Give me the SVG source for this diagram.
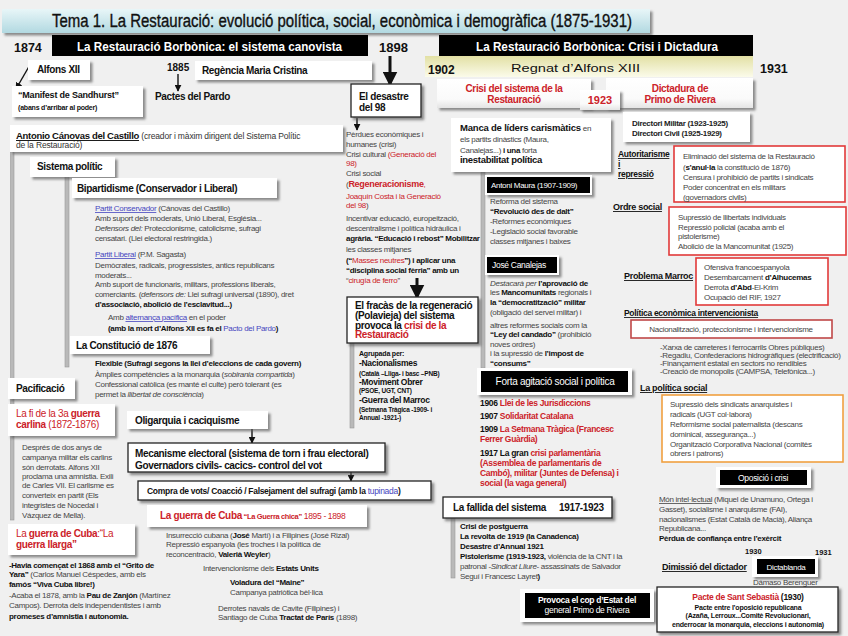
<svg xmlns="http://www.w3.org/2000/svg" width="848" height="636" viewBox="0 0 848 636">
<defs>
<linearGradient id="gT" x1="0" y1="0" x2="0" y2="1"><stop offset="0" stop-color="#e8f6f8"/><stop offset="1" stop-color="#b2d9e1"/></linearGradient>
<linearGradient id="gY" x1="0" y1="0" x2="0" y2="1"><stop offset="0" stop-color="#e2e0a4"/><stop offset="1" stop-color="#fbfbea"/></linearGradient>
<linearGradient id="gW" x1="0" y1="0" x2="0" y2="1"><stop offset="0" stop-color="#ffffff"/><stop offset="0.7" stop-color="#fafafa"/><stop offset="1" stop-color="#e4e4e4"/></linearGradient>
<filter id="sh" x="-10%" y="-10%" width="130%" height="150%"><feDropShadow dx="2.5" dy="2.5" stdDeviation="0.8" flood-color="#555" flood-opacity="0.65"/></filter>
<marker id="ah" viewBox="0 0 10 10" refX="9" refY="5" markerWidth="5" markerHeight="5" orient="auto"><path d="M0,0 L10,5 L0,10 z" fill="#111"/></marker>
<style>
text{font-family:"Liberation Sans",Arial,sans-serif}
.s{font-size:8px;fill:#454545;letter-spacing:-0.3px}
.k{font-weight:bold;fill:#111}
.h{font-size:10px;font-weight:bold;fill:#111;letter-spacing:-0.35px}
.r{fill:#cc2229}
.bl{fill:#4646c0;text-decoration:underline}
.bl2{fill:#4646c0}
.i{font-style:italic}
.u{text-decoration:underline}
.w{fill:#fff}
.bx{fill:#fff;filter:url(#sh)}
.bd{fill:#fff;stroke:#222;stroke-width:1.3;filter:url(#sh)}
.blk{fill:#000}
.wf{fill:#fff;filter:url(#sh)}
.bar{fill:#b9b9b9;stroke:#999;stroke-width:0.6}
.red{fill:#fff;stroke:#e23a3a;stroke-width:1.6}
.ar{stroke:#111;stroke-width:1.4;fill:none;marker-end:url(#ah)}
.ar3{stroke:#111;stroke-width:3;fill:none;marker-end:url(#ah)}
</style>
</defs>
<rect width="848" height="636" fill="#f0f0f0"/>

<g id="connectors">
<rect class="bar" x="10.5" y="152" width="3.5" height="368"/>
<rect class="bar" x="65" y="172" width="4" height="195"/>
<rect class="bar" x="350" y="343" width="4" height="85"/>
<rect class="bar" x="481" y="172" width="4" height="196"/>
<rect class="bar" x="451" y="518" width="4" height="60"/>
<line class="ar" x1="31" y1="63" x2="16" y2="89"/>
<line class="ar" x1="178" y1="74" x2="178" y2="91"/>
<line class="ar3" x1="390" y1="56" x2="390" y2="85"/>
<line class="ar" x1="357" y1="118" x2="357" y2="130"/>
<line class="ar3" x1="417" y1="278" x2="417" y2="298"/>
<line class="ar" x1="252" y1="429" x2="252" y2="443"/>
<line class="ar" x1="351" y1="462" x2="351" y2="481"/>
</g>

<g id="title">
<rect x="2" y="9" width="648" height="24" fill="url(#gT)" filter="url(#sh)"/>
<text x="52" y="27" font-size="18" fill="#111" stroke="#111" stroke-width="0.35" textLength="580" lengthAdjust="spacingAndGlyphs">Tema 1. La Restauració: evolució política, social, econòmica i demogràfica (1875-1931)</text>
</g>

<g id="timeline">
<text x="14" y="52" font-size="12.5" font-weight="bold" fill="#111">1874</text>
<rect x="52" y="35" width="316" height="21" fill="#000"/>
<text x="77" y="50.5" font-size="12.5" font-weight="bold" class="w" textLength="265" lengthAdjust="spacingAndGlyphs">La Restauració Borbònica: el sistema canovista</text>
<text x="379" y="52" font-size="13" font-weight="bold" fill="#111">1898</text>
<rect x="439" y="35" width="314" height="21" fill="#000"/>
<text x="476" y="50.5" font-size="12.5" font-weight="bold" class="w" textLength="242" lengthAdjust="spacingAndGlyphs">La Restauració Borbònica: Crisi i Dictadura</text>
<rect x="425" y="56" width="328" height="21" fill="url(#gY)"/>
<text x="428" y="74" font-size="12" font-weight="bold" fill="#111">1902</text>
<text x="511" y="71.5" font-size="10.5" fill="#111" textLength="129" lengthAdjust="spacingAndGlyphs">Regnat d’Alfons XIII</text>
<text x="760" y="73" font-size="12.5" font-weight="bold" fill="#111">1931</text>
</g>

<g id="alfons">
<rect class="bx" x="28" y="60" width="62" height="20"/>
<text class="h" x="37" y="73" font-size="9">Alfons XII</text>
</g>
<g id="manifest">
<rect class="bx" x="12" y="86" width="131" height="31"/>
<text x="18" y="98" font-size="9" font-weight="bold" fill="#111" letter-spacing="-0.2">“Manifest de Sandhurst”</text>
<text x="18" y="109.5" font-size="7" font-weight="bold" fill="#111" letter-spacing="-0.2">(abans d’arribar al poder)</text>
</g>
<g id="y1885">
<text x="167" y="71" font-size="10" font-weight="bold" fill="#111">1885</text>
<text class="h" x="155" y="100" font-size="9.5">Pactes del Pardo</text>
</g>
<g id="regencia">
<rect class="bx" x="195" y="61" width="177" height="19"/>
<text class="h" x="202" y="74" font-size="9.5">Regència Maria Cristina</text>
</g>

<g id="desastre">
<rect class="bd" x="351" y="84" width="70" height="33"/>
<text class="h" x="359" y="100">El desastre</text>
<text class="h" x="359" y="111">del 98</text>
</g>

<g id="crisi">
<rect x="437" y="79" width="154" height="29" fill="url(#gW)" filter="url(#sh)"/>
<text x="514" y="92" font-size="10" font-weight="bold" class="r" text-anchor="middle" letter-spacing="-0.35">Crisi del sistema de la</text>
<text x="514" y="102.5" font-size="10" font-weight="bold" class="r" text-anchor="middle" letter-spacing="-0.35">Restauració</text>
</g>
<g id="dictadura">
<rect x="606" y="78" width="147" height="30" fill="url(#gW)" filter="url(#sh)"/>
<text x="680" y="92" font-size="10" font-weight="bold" class="r" text-anchor="middle" letter-spacing="-0.35">Dictadura de</text>
<text x="680" y="102.5" font-size="10" font-weight="bold" class="r" text-anchor="middle" letter-spacing="-0.35">Primo de Rivera</text>
</g>
<g id="y1923">
<rect x="580" y="90" width="40" height="20" fill="url(#gW)" filter="url(#sh)"/>
<text x="600" y="104" font-size="11" font-weight="bold" class="r" text-anchor="middle">1923</text>
</g>
<g id="directori">
<rect class="bx" x="623" y="112" width="127" height="30"/>
<text x="632" y="126" font-size="8" font-weight="bold" fill="#222" letter-spacing="-0.3">Directori Militar (1923-1925)</text>
<text x="632" y="135.5" font-size="8" font-weight="bold" fill="#222" letter-spacing="-0.3">Directori Civil (1925-1929)</text>
</g>

<g id="canovas">
<rect class="bx" x="10" y="125" width="333" height="27"/>
<text x="16" y="139" class="s"><tspan class="k u" font-size="9.5">Antonio Cánovas del Castillo</tspan><tspan fill="#333" font-size="8.5" letter-spacing="-0.15"> (creador i màxim dirigent del Sistema Polític</tspan></text>
<text x="16" y="148" class="s" style="fill:#333;font-size:8.5px;letter-spacing:-0.15px">de la Restauració)</text>
</g>

<g id="sistema">
<rect class="bx" x="30" y="157" width="85" height="20"/>
<text class="h" x="37" y="170">Sistema polític</text>
</g>
<g id="bipartidisme">
<rect class="bx" x="72" y="178" width="205" height="20"/>
<text class="h" x="77" y="191.5">Bipartidisme (Conservador i Liberal)</text>
<text class="s" x="95" y="211"><tspan class="bl">Partit Conservador</tspan> (Cánovas del Castillo)</text>
<text class="s" x="95" y="221">Amb suport dels moderats, Unió Liberal, Església...</text>
<text class="s" x="95" y="231"><tspan class="i">Defensors del:</tspan> Proteccionisme, catolicisme, sufragi</text>
<text class="s" x="95" y="241">censatari.  (Llei electoral restringida.)</text>
<text class="s" x="95" y="257"><tspan class="bl">Partit Liberal</tspan> (P.M. Sagasta)</text>
<text class="s" x="95" y="268">Demòcrates, radicals, progressistes, antics republicans</text>
<text class="s" x="95" y="278">moderats...</text>
<text class="s" x="95" y="287">Amb suport de funcionaris, militars, professions liberals,</text>
<text class="s" x="95" y="297">comerciants. (<tspan class="i">defensors de:</tspan> Llei sufragi universal (1890), dret</text>
<text class="s k" x="95" y="307">d’associació, abolició de l’esclavitud...)</text>
<text class="s" x="108" y="320">Amb <tspan class="bl">alternança pacífica</tspan> en el poder</text>
<text class="s k" x="108" y="331">(amb la mort d’Alfons XII es fa el <tspan class="bl2" font-weight="normal">Pacto del Pardo</tspan>)</text>
</g>

<g id="constitucio">
<rect class="bx" x="70" y="336" width="140" height="18"/>
<text class="h" x="76" y="349">La Constitució de 1876</text>
<text class="s k" x="95" y="366">Flexible (Sufragi segons la llei d’eleccions de cada govern)</text>
<text class="s" x="95" y="377">Àmplies competències a la monarquia (<tspan class="i">sobirania compartida</tspan>)</text>
<text class="s" x="95" y="387">Confessional catòlica (es manté el culte) però tolerant (es</text>
<text class="s" x="95" y="397">permet la <tspan class="i">llibertat de consciència</tspan>)</text>
</g>

<g id="pacificacio">
<rect class="bx" x="8" y="378" width="67" height="21"/>
<text class="h" x="16" y="392">Pacificació</text>
</g>
<g id="carlina">
<rect class="bx" x="8" y="404" width="107" height="32"/>
<text x="16" y="416.5" font-size="10" class="r" letter-spacing="-0.35">La fi de la 3a <tspan font-weight="bold">guerra</tspan></text>
<text x="16" y="428" font-size="10" class="r" letter-spacing="-0.35"><tspan font-weight="bold">carlina</tspan> (1872-1876)</text>
<text class="s" x="22" y="450">Després de dos anys de</text>
<text class="s" x="22" y="460">campanya militar els carlins</text>
<text class="s" x="22" y="470">són derrotats. Alfons XII</text>
<text class="s" x="22" y="479">proclama una amnistia. Exili</text>
<text class="s" x="22" y="488">de Carles VII. El carlisme es</text>
<text class="s" x="22" y="498">converteix en partit (Els</text>
<text class="s" x="22" y="508">integristes de Nocedal i</text>
<text class="s" x="22" y="518">Vázquez de Mella).</text>
</g>

<g id="cuba-llarga">
<rect class="bx" x="8" y="524" width="127" height="31"/>
<text x="16" y="536.5" font-size="10" class="r" letter-spacing="-0.35">La <tspan font-weight="bold">guerra de Cuba</tspan>:“La</text>
<text x="16" y="547.5" font-size="10" class="r" font-weight="bold" letter-spacing="-0.35">guerra llarga”</text>
<text class="s k" x="9" y="568">-Havia començat el 1868 amb el “Grito de</text>
<text class="s" x="9" y="577"><tspan class="k">Yara”</tspan> (Carlos Manuel Céspedes, amb els</text>
<text class="s k" x="9" y="587">famós “Viva Cuba libre!)</text>
<text class="s" x="9" y="598">-Acaba el 1878, amb la <tspan class="k">Pau de Zanjón</tspan> (Martínez</text>
<text class="s" x="9" y="608">Campos). Derrota dels independentistes i amb</text>
<text class="s k" x="9" y="619">promeses d’amnistia i autonomia.</text>
</g>

<g id="oligarquia">
<rect class="bx" x="127" y="411" width="141" height="18"/>
<text class="h" x="135" y="423.5">Oligarquia i caciquisme</text>
</g>
<g id="mecanisme">
<rect class="bd" x="128" y="443" width="257" height="29"/>
<text class="h" x="135" y="457">Mecanisme electoral (sistema de torn i frau electoral)</text>
<text class="h" x="135" y="468.5">Governadors civils- cacics- control del vot</text>
</g>
<g id="compra">
<rect class="bd" x="138" y="481" width="293" height="19"/>
<text x="147" y="494" font-size="8.5" font-weight="bold" fill="#111" letter-spacing="-0.3">Compra de vots/ Coacció / Falsejament del sufragi (amb la <tspan class="bl2" font-weight="normal">tupinada</tspan>)</text>
</g>
<g id="cuba-chica">
<rect class="bx" x="147" y="505" width="220" height="22"/>
<text x="160" y="518.5" class="r" font-size="10" letter-spacing="-0.35"><tspan font-weight="bold">La guerra de Cuba</tspan><tspan font-weight="bold" font-size="7.5"> “La Guerra chica”</tspan><tspan font-size="8.5">  1895 - 1898</tspan></text>
<text class="s" x="166" y="538">Insurrecció cubana (<tspan class="k">José</tspan> Martí) i a Filipines (José Rizal)</text>
<text class="s" x="166" y="547">Repressió espanyola (les troches i la política de</text>
<text class="s" x="166" y="557">reconcentració,  <tspan class="k">Valerià Weyler</tspan>)</text>
<text class="s" x="203" y="571">Intervencionisme dels <tspan class="k">Estats Units</tspan></text>
<text class="s k" x="230" y="585">Voladura del “Maine”</text>
<text class="s" x="230" y="595">Campanya patriòtica bèl·lica</text>
<text class="s" x="218" y="611">Derrotes navals de Cavite (Filipines) i</text>
<text class="s" x="218" y="620">Santiago de Cuba <tspan class="k">Tractat de París</tspan> (1898)</text>
</g>

<g id="crisi98">
<text class="s" x="346" y="137">Pèrdues econòmiques i</text>
<text class="s" x="346" y="147">humanes (crisi)</text>
<text class="s" x="346" y="157">Crisi cultural <tspan class="r">(Generació del</tspan></text>
<text class="s r" x="346" y="166">98)</text>
<text class="s" x="346" y="176">Crisi social</text>
<text class="s" x="346" y="187">(<tspan class="r" font-weight="bold" font-size="9">Regeneracionisme</tspan><tspan class="r">,</tspan></text>
<text class="s r" x="346" y="199">Joaquín Costa i la Generació</text>
<text class="s" x="346" y="208"><tspan class="r">del 98</tspan>)</text>
<text class="s" x="346" y="221">Incentivar educació, europeització,</text>
<text class="s" x="346" y="231">descentralisme i política hidràulica i</text>
<text class="s k" x="346" y="241">agrària. “Educació i rebost” Mobilitzar</text>
<text class="s" x="346" y="252">les classes mitjanes</text>
<text class="s k" x="346" y="263">(“<tspan class="r" font-weight="normal">Masses neutres</tspan>”) i aplicar una</text>
<text class="s k" x="346" y="273">“disciplina social fèrria” amb un</text>
<text class="s" x="346" y="283">“<tspan class="r">cirugía de ferro</tspan>”</text>
</g>

<g id="fracas">
<rect class="bd" x="347" y="297" width="131" height="46"/>
<text class="h" x="355" y="309" font-size="9.5">El fracàs de la regeneració</text>
<text class="h" x="355" y="318.5" font-size="9.5">(Polavieja) del sistema</text>
<text class="h" x="355" y="328.5" font-size="9.5">provoca la <tspan class="r">crisi de la</tspan></text>
<text class="h r" x="355" y="338" font-size="9.5">Restauració</text>
<text x="359" y="356" font-size="7" font-weight="bold" fill="#111" letter-spacing="-0.2">Agrupada per:</text>
<text x="359" y="366" font-size="8.5" font-weight="bold" fill="#111" letter-spacing="-0.3">-Nacionalismes</text>
<text x="359" y="375.5" font-size="6.5" font-weight="bold" fill="#111" letter-spacing="-0.2">(Català –Lliga- i basc –PNB)</text>
<text x="359" y="384.5" font-size="8.5" font-weight="bold" fill="#111" letter-spacing="-0.3">-Moviment Obrer</text>
<text x="359" y="393" font-size="6.5" font-weight="bold" fill="#111" letter-spacing="-0.2">(PSOE, UGT, CNT)</text>
<text x="359" y="403" font-size="8.5" font-weight="bold" fill="#111" letter-spacing="-0.3">-Guerra del Marroc</text>
<text x="359" y="411.5" font-size="6.5" font-weight="bold" fill="#111" letter-spacing="-0.2">(Setmana Tràgica -1909- i</text>
<text x="359" y="420" font-size="6.5" font-weight="bold" fill="#111" letter-spacing="-0.2">Annual -1921-)</text>
</g>

<g id="manca">
<rect class="bx" x="451" y="118" width="160" height="54"/>
<text x="460" y="131" class="s" fill="#333"><tspan class="k" font-size="9.5" letter-spacing="-0.2">Manca de líders carismàtics</tspan> en</text>
<text x="460" y="142" class="s">els partits dinàstics  (Maura,</text>
<text x="460" y="153" class="s">Canalejas...)<tspan class="k"> i una</tspan> forta</text>
<text x="460" y="163" font-size="9.5" font-weight="bold" fill="#111" letter-spacing="-0.3">inestabilitat política</text>
</g>

<g id="maura">
<rect class="wf" x="485" y="175" width="107" height="20"/>
<rect class="blk" x="487" y="177" width="103" height="16"/>
<text x="491" y="188" font-size="8" class="w" letter-spacing="-0.3">Antoni Maura (1907-1909)</text>
<text class="s" x="490" y="204">Reforma del sistema</text>
<text class="s k" x="490" y="213.5">“Revolució des de dalt”</text>
<text class="s" x="490" y="224">-Reformes econòmiques</text>
<text class="s" x="490" y="234">-Legislació social favorable</text>
<text class="s" x="490" y="243.5">classes mitjanes i baixes</text>
</g>

<g id="canalejas">
<rect class="wf" x="485" y="255" width="74" height="20"/>
<rect class="blk" x="487" y="257" width="70" height="16"/>
<text x="492" y="268" font-size="8.5" class="w" letter-spacing="-0.3">José Canalejas</text>
<text class="s" x="490" y="286"><tspan class="i">Destacarà per</tspan> <tspan class="k">l’aprovació de</tspan></text>
<text class="s" x="490" y="295">les <tspan class="k">Mancomunitats</tspan> regionals i</text>
<text class="s k" x="490" y="305">la “democratització” militar</text>
<text class="s" x="490" y="315">(obligació del servei militar) i</text>
<text class="s" x="490" y="328">altres reformes socials com la</text>
<text class="s" x="490" y="337"><tspan class="k">“Ley del candado”</tspan> (prohibició</text>
<text class="s" x="490" y="347">noves ordres)</text>
<text class="s" x="490" y="356">i la supressió de <tspan class="k">l’impost de</tspan></text>
<text class="s k" x="490" y="366">“consums”</text>
</g>

<g id="forta">
<rect class="wf" x="477" y="368" width="155" height="27"/>
<rect class="blk" x="481" y="371" width="147" height="21"/>
<text x="555" y="385" font-size="10" class="w" text-anchor="middle" letter-spacing="-0.3">Forta agitació social i política</text>
<text x="480" y="406" font-size="8.5" font-weight="bold" fill="#111" letter-spacing="-0.3">1906 <tspan class="r">Llei de les Jurisdiccions</tspan></text>
<text x="480" y="419" font-size="8.5" font-weight="bold" fill="#111" letter-spacing="-0.3">1907 <tspan class="r">Solidaritat Catalana</tspan></text>
<text x="480" y="432" font-size="8.5" font-weight="bold" fill="#111" letter-spacing="-0.3">1909 <tspan class="r">La Setmana Tràgica (Francesc</tspan></text>
<text x="480" y="441.5" font-size="8.5" font-weight="bold" class="r" letter-spacing="-0.3">Ferrer Guàrdia)</text>
<text x="480" y="456" font-size="8.5" font-weight="bold" fill="#111" letter-spacing="-0.3">1917 La gran <tspan class="r">crisi parlamentària</tspan></text>
<text x="480" y="466" font-size="8.5" font-weight="bold" class="r" letter-spacing="-0.3">(Assemblea de parlamentaris de</text>
<text x="480" y="476" font-size="8.5" font-weight="bold" class="r" letter-spacing="-0.3">Cambó), militar  (Juntes de Defensa) i</text>
<text x="480" y="485.5" font-size="8.5" font-weight="bold" class="r" letter-spacing="-0.3">social (la vaga general)</text>
</g>

<g id="fallida">
<rect class="bd" x="443" y="497" width="169" height="21"/>
<text class="h" x="453" y="511">La fallida del sistema</text>
<text class="h" x="559" y="511">1917-1923</text>
<text class="s k" x="460" y="529">Crisi de postguerra</text>
<text class="s k" x="460" y="539">La revolta de 1919 (la Canadenca)</text>
<text class="s k" x="460" y="549">Desastre d’Annual 1921</text>
<text class="s" x="460" y="559"><tspan class="k">Pistolerisme (1919-1923,</tspan> violència de la CNT i la</text>
<text class="s" x="460" y="569">patronal -<tspan class="i">Sindicat Lliure</tspan>- assassinats de Salvador</text>
<text class="s" x="460" y="579">Seguí i Francesc Layret<tspan class="k">)</tspan></text>
</g>

<g id="provoca">
<rect class="wf" x="520" y="589" width="134" height="33"/>
<rect class="blk" x="525" y="593" width="125" height="25"/>
<text x="587" y="603" font-size="8.5" font-weight="bold" class="w" text-anchor="middle" letter-spacing="-0.3">Provoca el cop d’Estat del</text>
<text x="587" y="613" font-size="8.5" class="w" text-anchor="middle" letter-spacing="-0.3">general Primo de Rivera</text>
</g>

<g id="autoritarisme">
<text x="618" y="157" font-size="8.5" font-weight="bold" fill="#111" class="u" letter-spacing="-0.3">Autoritarisme</text>
<text x="618" y="167" font-size="8.5" font-weight="bold" fill="#111" class="u">i</text>
<text x="618" y="177" font-size="8.5" font-weight="bold" fill="#111" class="u" letter-spacing="-0.3">repressió</text>
<rect class="red" x="674" y="146" width="171" height="56"/>
<text class="s" x="683" y="159">Eliminació del sistema de la Restauració</text>
<text class="s" x="683" y="169.5">(<tspan class="k">s’anul·la</tspan> la constitució de 1876)</text>
<text class="s" x="683" y="180">Censura i prohibició de partits i sindicats</text>
<text class="s" x="683" y="190">Poder concentrat en els militars</text>
<text class="s" x="683" y="200">(governadors civils)</text>
</g>

<g id="ordre">
<text x="613" y="210" font-size="9" font-weight="bold" fill="#111" class="u" letter-spacing="-0.3">Ordre social</text>
<rect class="red" x="669" y="207" width="177" height="48"/>
<text class="s" x="678" y="220">Supressió de llibertats individuals</text>
<text class="s" x="678" y="229.5">Repressió policial (acaba amb el</text>
<text class="s" x="678" y="239">pistolerisme)</text>
<text class="s" x="678" y="248.5">Abolició de la Mancomunitat  (1925)</text>
</g>

<g id="marroc">
<text x="624" y="279" font-size="9" font-weight="bold" fill="#111" class="u" letter-spacing="-0.3">Problema Marroc</text>
<rect class="red" x="696" y="258" width="132" height="47"/>
<text class="s" x="704" y="270">Ofensiva francoespanyola</text>
<text class="s" x="704" y="280">Desembarcament <tspan class="k">d’Alhucemas</tspan></text>
<text class="s" x="704" y="290">Derrota <tspan class="k">d’Abd</tspan>-El-Krim</text>
<text class="s" x="704" y="300">Ocupació del RIF, 1927</text>
</g>

<g id="economica">
<text x="624" y="316" font-size="8.5" font-weight="bold" fill="#111" class="u" letter-spacing="-0.3">Política econòmica intervencionista</text>
<rect x="631" y="320" width="201" height="18" fill="#fff" stroke="#c04848" stroke-width="1.6"/>
<text class="s" x="731" y="332" text-anchor="middle" font-size="8.5">Nacionalització, proteccionisme i intervencionisme</text>
<text class="s" x="660" y="349.5" font-size="6.5" letter-spacing="-0.25">-Xarxa de carreteres i ferrocarrils Obres públiques)</text>
<text class="s" x="660" y="357.5" font-size="6.5" letter-spacing="-0.25">-Regadiu, Confederacions hidrogràfiques (electrificació)</text>
<text class="s" x="660" y="365.5" font-size="6.5" letter-spacing="-0.25">-Finançament estatal en sectors no rendibles</text>
<text class="s" x="660" y="373.5" font-size="6.5" letter-spacing="-0.25">-Creació de monopolis (CAMPSA, Telefònica...)</text>
</g>

<g id="social">
<text x="640" y="391" font-size="9" font-weight="bold" fill="#111" class="u" letter-spacing="-0.3">La política social</text>
<rect x="662" y="395" width="181" height="67" fill="#fff" stroke="#f0a040" stroke-width="1.6"/>
<text class="s" x="670" y="407">Supressió dels sindicats anarquistes i</text>
<text class="s" x="670" y="417">radicals (UGT col·labora)</text>
<text class="s" x="670" y="427">Reformisme social paternalista (descans</text>
<text class="s" x="670" y="437">dominical, assegurança...)</text>
<text class="s" x="670" y="447">Organització Corporativa Nacional (comitès</text>
<text class="s" x="670" y="456">obrers i patrons)</text>
</g>

<g id="oposicio">
<rect class="wf" x="716" y="467" width="95" height="21"/>
<rect class="blk" x="720" y="470" width="87" height="15"/>
<text x="763" y="481" font-size="8.5" class="w" text-anchor="middle" letter-spacing="-0.3">Oposició i crisi</text>
<text class="s" x="659" y="502"><tspan class="u">Món intel·lectual</tspan> (Miquel de Unamuno, Ortega i</text>
<text class="s" x="659" y="511.5">Gasset), socialisme i anarquisme (FAI),</text>
<text class="s" x="659" y="521.5">nacionalismes (Estat Català de Macià), Aliança</text>
<text class="s" x="659" y="531">Republicana...</text>
<text class="s k" x="659" y="541">Pèrdua de confiança entre l’exèrcit</text>
</g>

<g id="dictablanda">
<text x="745" y="554" font-size="7.5" font-weight="bold" fill="#111">1930</text>
<text x="815" y="555" font-size="7.5" font-weight="bold" fill="#111">1931</text>
<text x="662" y="570" font-size="9" font-weight="bold" fill="#111" class="u" letter-spacing="-0.3">Dimissió del dictador</text>
<rect class="wf" x="752" y="556" width="66" height="21"/>
<rect class="blk" x="757" y="559" width="58" height="15"/>
<text x="786" y="569.5" font-size="8" class="w" text-anchor="middle" letter-spacing="-0.3">Dictablanda</text>
<text class="s" x="753" y="585">Dámaso Berenguer</text>
</g>

<g id="pacte">
<rect class="bd" x="657" y="587" width="181" height="45" stroke="#444"/>
<text x="748" y="600" font-size="8.5" font-weight="bold" text-anchor="middle" fill="#111" letter-spacing="-0.3"><tspan class="r">Pacte de Sant Sebastià</tspan> (1930)</text>
<text x="748" y="609.5" font-size="7" font-weight="bold" text-anchor="middle" fill="#111" letter-spacing="-0.2">Pacte entre l’oposició republicana</text>
<text x="748" y="618" font-size="7" font-weight="bold" text-anchor="middle" fill="#111" letter-spacing="-0.2">(Azaña, Lerroux...Comitè Revolucionari,</text>
<text x="748" y="626.5" font-size="7" font-weight="bold" text-anchor="middle" fill="#111" letter-spacing="-0.2">enderrocar la monarquia, eleccions i autonomia)</text>
</g>
</svg>
